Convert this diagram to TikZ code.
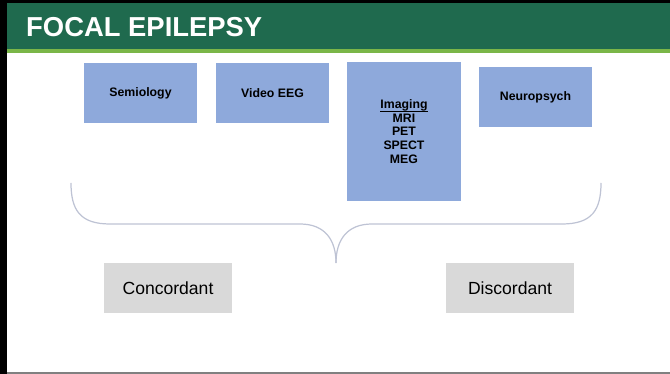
\documentclass[tikz,border=0pt]{standalone}
\usepackage{fontspec}
\setmainfont{Liberation Sans}
\usepackage{tikz}
\usepackage{xcolor}
\definecolor{bandgreen}{RGB}{31,106,78}
\definecolor{stripegreen}{RGB}{122,182,72}
\definecolor{boxblue}{RGB}{142,169,219}
\definecolor{boxgrey}{RGB}{217,217,217}
\definecolor{bracegrey}{RGB}{190,195,212}
\newcommand{\souligne}[1]{{\setbox0\hbox{#1}\rlap{\rule[-1.7pt]{\wd0}{0.45pt}}\box0}}
\tikzset{
TestBox/.style={
 fill=boxblue,
 draw=none,
 font=\bfseries\fontsize{7}{8}\selectfont,
 align=center,
 inner sep=0pt
 },
IssueBox/.style={
 fill=boxgrey,
 draw=none,
 font=\fontsize{10}{12}\selectfont,
 minimum width=2.56cm,
 minimum height=1cm,
 inner sep=0pt
 },
Accolade/.style={
 draw=bracegrey,
 line width=0.7pt
 }
}

\begin{document}
\begin{tikzpicture}[x=0.02cm,y=-0.02cm]
\useasboundingbox (0,0) rectangle (670,374);
% bandeau du titre
\fill[black] (0,0) rectangle (670,3);
\fill[black] (0,0) rectangle (7,374);
\fill[bandgreen] (7,3) rectangle (670,49);
\fill[stripegreen] (7,49) rectangle (670,53);
\fill[gray] (7,372) rectangle (670,374);
\node[anchor=west,text=white,font=\bfseries\fontsize{15.6}{18}\selectfont] (titre) at (20,27) {FOCAL EPILEPSY};
% examens
\node[TestBox,minimum width=2.26cm,minimum height=1.2cm] (semio) at (140.5,93) {Semiology};
\node[TestBox,minimum width=2.26cm,minimum height=1.2cm] (eeg) at (272.5,93) {Video EEG};
\node[TestBox,minimum width=2.28cm,minimum height=2.78cm,font=\bfseries\fontsize{7}{7.8}\selectfont] (imagerie) at (404,131.5) {\souligne{Imaging}\\MRI\\PET\\SPECT\\MEG};
\node[TestBox,minimum width=2.26cm,minimum height=1.2cm] (neuro) at (535.5,97) {Neuropsych};
% accolade
\draw[Accolade] (71,183) .. controls (71,210) and (80,224) .. (110,224) -- (300,224) .. controls (325,224) and (336,240) .. (336,263);
\draw[Accolade] (601,183) .. controls (601,210) and (592,224) .. (562,224) -- (372,224) .. controls (347,224) and (336,240) .. (336,263);
% conclusions
\node[IssueBox] (concord) at (168,288) {Concordant};
\node[IssueBox] (discord) at (510,288) {Discordant};
\end{tikzpicture}
\end{document}
